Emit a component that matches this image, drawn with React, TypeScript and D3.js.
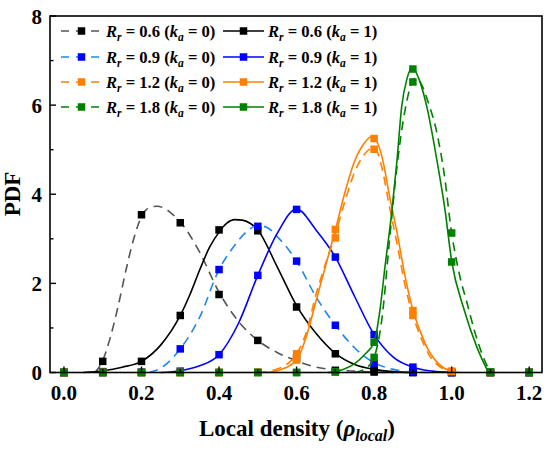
import React from "react";
import * as d3 from "d3";

// ---------- data ----------
const xMarkers = [0, 0.1, 0.2, 0.3, 0.4, 0.5, 0.6, 0.7, 0.8, 0.9, 1.0, 1.1, 1.2];

const rr06ka0 = [0, 0.25, 3.54, 3.36, 1.75, 0.72, 0.32, 0.05, 0.01, 0, 0, 0, 0];
const rr06ka1 = [0, 0.02, 0.25, 1.28, 3.2, 3.18, 1.47, 0.42, 0.06, 0, 0, 0, 0];
const rr09ka0 = [0, 0, 0.01, 0.53, 2.31, 3.28, 2.5, 1.06, 0.2, 0.02, 0, 0, 0];
const rr09ka1 = [0, 0, 0, 0.03, 0.4, 2.18, 3.66, 2.59, 0.85, 0.12, 0, 0, 0];
const rr12ka0 = [0, 0, 0, 0, 0, 0.01, 0.42, 3.02, 5.01, 1.28, 0.02, 0, 0];
const rr12ka1 = [0, 0, 0, 0, 0, 0, 0.28, 3.21, 5.25, 1.39, 0.03, 0, 0];
const rr18ka0 = [0, 0, 0, 0, 0, 0, 0, 0.01, 0.34, 6.52, 3.13, 0.01, 0];
const rr18ka1 = [0, 0, 0, 0, 0, 0, 0, 0.02, 0.68, 6.81, 2.48, 0, 0];

// fitted curves: [x, y]
const fit06ka0: [number, number][] = [[0.08,0],[0.1,0.27],[0.12,0.8],[0.14,1.5],[0.16,2.3],[0.18,3.0],[0.2,3.5],[0.22,3.7],[0.24,3.73],[0.26,3.68],[0.28,3.55],[0.3,3.38],[0.35,2.7],[0.4,1.8],[0.45,1.15],[0.5,0.72],[0.55,0.45],[0.6,0.26],[0.65,0.12],[0.7,0.06],[0.75,0.03],[0.8,0.01],[0.85,0]];
const fit06ka1: [number, number][] = [[0.05,0],[0.1,0.04],[0.15,0.12],[0.2,0.25],[0.25,0.62],[0.3,1.28],[0.325,1.75],[0.35,2.3],[0.375,2.8],[0.4,3.15],[0.42,3.35],[0.44,3.43],[0.46,3.42],[0.48,3.35],[0.5,3.2],[0.55,2.37],[0.6,1.5],[0.65,0.88],[0.7,0.43],[0.75,0.18],[0.8,0.07],[0.85,0.02],[0.9,0]];
const fit09ka0: [number, number][] = [[0.22,0],[0.25,0.1],[0.3,0.53],[0.35,1.24],[0.4,2.31],[0.44,2.85],[0.47,3.15],[0.5,3.3],[0.525,3.25],[0.55,3.05],[0.6,2.5],[0.65,1.7],[0.7,1.06],[0.75,0.55],[0.8,0.22],[0.85,0.07],[0.9,0.01],[0.95,0]];
const fit09ka1: [number, number][] = [[0.25,0],[0.3,0.04],[0.35,0.15],[0.4,0.4],[0.45,1.1],[0.5,2.18],[0.55,3.12],[0.6,3.67],[0.65,3.2],[0.7,2.59],[0.75,1.7],[0.8,0.85],[0.85,0.34],[0.9,0.12],[0.95,0.03],[1.0,0]];
const fit12ka0: [number, number][] = [[0.5,0],[0.55,0.08],[0.6,0.42],[0.625,0.9],[0.65,1.75],[0.675,2.45],[0.7,3.1],[0.725,3.85],[0.75,4.5],[0.775,4.9],[0.8,5.05],[0.82,4.6],[0.84,3.7],[0.86,2.85],[0.88,1.95],[0.9,1.28],[0.92,0.8],[0.94,0.42],[0.96,0.2],[0.98,0.07],[1.0,0.01]];
const fit12ka1: [number, number][] = [[0.52,0],[0.55,0.04],[0.6,0.28],[0.625,0.8],[0.65,1.6],[0.675,2.4],[0.7,3.2],[0.725,4.05],[0.75,4.75],[0.775,5.15],[0.795,5.3],[0.82,4.85],[0.84,3.95],[0.86,3.1],[0.88,2.15],[0.9,1.4],[0.92,0.9],[0.94,0.5],[0.96,0.25],[0.98,0.1],[1.0,0.03],[1.02,0]];
const fit18ka0: [number, number][] = [[0.75,0],[0.78,0.1],[0.8,0.34],[0.82,1.2],[0.84,3.0],[0.86,4.7],[0.88,5.9],[0.905,6.6],[0.92,6.5],[0.94,6.05],[0.96,5.45],[0.98,4.5],[1.0,3.13],[1.02,2.2],[1.04,1.55],[1.06,0.9],[1.08,0.38],[1.1,0]];
const fit18ka1: [number, number][] = [[0.68,0],[0.7,0.02],[0.72,0.07],[0.75,0.2],[0.775,0.4],[0.8,0.68],[0.815,1.4],[0.828,2.37],[0.846,3.64],[0.859,4.76],[0.871,5.96],[0.885,6.6],[0.898,6.85],[0.915,6.6],[0.936,5.96],[0.962,4.76],[0.983,3.64],[1.0,2.5],[1.03,1.47],[1.065,0.57],[1.095,0]];

const rrLabels = ["0.6", "0.9", "1.2", "1.8"];
const xTickLabels = ["0.0", "0.2", "0.4", "0.6", "0.8", "1.0", "1.2"];
const yTickLabels = ["0", "2", "4", "6", "8"];

const series = [
  { rr: "0.6", ka: "0", values: rr06ka0, fit: fit06ka0, line: "#555555", marker: "#000000", dashed: true },
  { rr: "0.6", ka: "1", values: rr06ka1, fit: fit06ka1, line: "#000000", marker: "#000000", dashed: false },
  { rr: "0.9", ka: "0", values: rr09ka0, fit: fit09ka0, line: "#1E88F0", marker: "#0000FF", dashed: true },
  { rr: "0.9", ka: "1", values: rr09ka1, fit: fit09ka1, line: "#0000FF", marker: "#0000FF", dashed: false },
  { rr: "1.2", ka: "0", values: rr12ka0, fit: fit12ka0, line: "#FF8000", marker: "#FF8000", dashed: true },
  { rr: "1.2", ka: "1", values: rr12ka1, fit: fit12ka1, line: "#FF8000", marker: "#FF8000", dashed: false },
  { rr: "1.8", ka: "0", values: rr18ka0, fit: fit18ka0, line: "#008000", marker: "#008000", dashed: true },
  { rr: "1.8", ka: "1", values: rr18ka1, fit: fit18ka1, line: "#008000", marker: "#008000", dashed: false },
];

// ---------- layout ----------
const W = 550, H = 451;
const L = 50, R = 542, T = 16, B = 372.5;
const FONT = "'Liberation Serif', 'Times New Roman', serif";
const DASH = "9,6";
const MS = 7.5;

const x = d3.scaleLinear().domain([-0.036, 1.233]).range([L, R]);
const y = d3.scaleLinear().domain([0, 8]).range([B, T]);

const line = d3.line<[number, number]>()
  .x((d) => x(d[0]))
  .y((d) => y(d[1]))
  .curve(d3.curveMonotoneX);

function LegendLabel({ tx, ty, rr, ka }: { tx: number; ty: number; rr: string; ka: string }) {
  return (
    <text x={tx} y={ty} fontFamily={FONT} fontWeight="bold" fontSize={16.6} fill="#000">
      <tspan fontStyle="italic">R</tspan>
      <tspan fontStyle="italic" fontSize={11.5} dy={4}>r</tspan>
      <tspan dy={-4}>{` = ${rr} (`}</tspan>
      <tspan fontStyle="italic">k</tspan>
      <tspan fontStyle="italic" fontSize={11.5} dy={4}>a</tspan>
      <tspan dy={-4}>{` = ${ka})`}</tspan>
    </text>
  );
}

export default function App() {
  const majorX = d3.range(0, 1.2001, 0.2);
  const minorX = d3.range(0.1, 1.2001, 0.2);
  const majorY = d3.range(0, 8.001, 2);
  const minorY = d3.range(1, 8, 2);
  const rowY = [31, 57, 82, 107];

  return (
    <svg width={W} height={H} style={{ position: "absolute", left: 0, top: 0, background: "#fff" }}>
      <rect x={0} y={0} width={W} height={H} fill="#fff" />
      {/* series */}
      {series.map((s, i) => (
        <g key={i}>
          <path d={line(s.fit) || ""} fill="none" stroke={s.line} strokeWidth={1.6}
            strokeDasharray={s.dashed ? DASH : undefined} />
          {s.values.map((v, j) => (
            <rect key={j} x={x(xMarkers[j]) - MS / 2} y={y(v) - MS / 2} width={MS} height={MS} fill={s.marker} />
          ))}
        </g>
      ))}
      {/* frame */}
      <rect x={L} y={T} width={R - L} height={B - T} fill="none" stroke="#000" strokeWidth={1.6} />
      {/* x ticks */}
      {majorX.map((t, i) => (
        <g key={"mx" + i}>
          <line x1={x(t)} x2={x(t)} y1={B} y2={B - 6} stroke="#000" strokeWidth={1.4} />
          <text x={x(t)} y={400} textAnchor="middle" fontFamily={FONT} fontWeight="bold" fontSize={21}>{xTickLabels[i]}</text>
        </g>
      ))}
      {minorX.map((t, i) => (
        <line key={"nx" + i} x1={x(t)} x2={x(t)} y1={B} y2={B - 3.5} stroke="#000" strokeWidth={1.4} />
      ))}
      {/* y ticks */}
      {majorY.map((t, i) => (
        <g key={"my" + i}>
          <line x1={L} x2={L + 6} y1={y(t)} y2={y(t)} stroke="#000" strokeWidth={1.4} />
          <text x={42} y={y(t) + 7.5} textAnchor="end" fontFamily={FONT} fontWeight="bold" fontSize={21}>{yTickLabels[i]}</text>
        </g>
      ))}
      {minorY.map((t, i) => (
        <line key={"ny" + i} x1={L} x2={L + 3.5} y1={y(t)} y2={y(t)} stroke="#000" strokeWidth={1.4} />
      ))}
      {/* axis titles */}
      <text x={297} y={436} textAnchor="middle" fontFamily={FONT} fontWeight="bold" fontSize={23}>
        <tspan>Local density (</tspan>
        <tspan fontStyle="italic">ρ</tspan>
        <tspan fontStyle="italic" fontSize={16} dy={5}>local</tspan>
        <tspan dy={-5}>)</tspan>
      </text>
      <text transform={`translate(20,194) rotate(-90)`} textAnchor="middle" fontFamily={FONT} fontWeight="bold" fontSize={23}>PDF</text>
      {/* legend */}
      {series.map((s, i) => {
        const col = i % 2;
        const row = Math.floor(i / 2);
        const cy = rowY[row];
        const x1 = col === 0 ? 61 : 223;
        const x2 = col === 0 ? 102 : 264;
        const mx = (x1 + x2) / 2;
        const tx = col === 0 ? 106 : 268;
        return (
          <g key={"lg" + i}>
            <line x1={x1} x2={x2} y1={cy} y2={cy} stroke={s.line} strokeWidth={1.6}
              strokeDasharray={s.dashed ? "8,7" : undefined} />
            <rect x={mx - MS / 2} y={cy - MS / 2} width={MS} height={MS} fill={s.marker} />
            <LegendLabel tx={tx} ty={cy + 5.5} rr={rrLabels[row]} ka={s.ka} />
          </g>
        );
      })}
    </svg>
  );
}
